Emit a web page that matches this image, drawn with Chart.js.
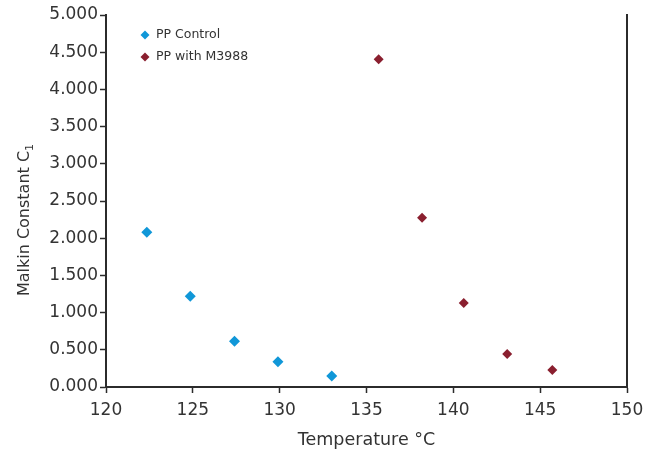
<!DOCTYPE html>
<html lang="en">

<head>
    <meta charset="utf-8">
    <title>Malkin Constant vs Temperature</title>
    <script src="https://cdn.jsdelivr.net/npm/chart.js@4.4.0/dist/chart.umd.min.js"></script>
    <style>
        body {
            margin: 0;
            background-color: #ffffff;
        }

        .wrap {
            width: 657px;
            height: 451px;
        }
    </style>
</head>

<body>
    <div class="wrap">
        <canvas id="myChart" width="657" height="451"></canvas>
    </div>

    <script>
        // values
        var controlTemp = [122.35, 124.85, 127.4, 129.9, 133.0];
        var controlC1 = [2.079, 1.219, 0.614, 0.340, 0.148];

        var m3988Temp = [135.7, 138.2, 140.6, 143.1, 145.7];
        var m3988C1 = [4.405, 2.276, 1.129, 0.444, 0.228];

        var seriesNames = ["PP Control", "PP with M3988"];
        var seriesColors = ["#1097d8", "#8a1f2f"];

        var xTicks = [120, 125, 130, 135, 140, 145, 150];
        var yTicks = [0, 0.5, 1, 1.5, 2, 2.5, 3, 3.5, 4, 4.5, 5];

        var yTitle = "Malkin Constant C";
        var yTitleSub = "1";

        var fontFamily = "'DejaVu Sans', sans-serif";
        var textColor = "#333333";
        var lineColor = "#2b2b2b";

        let toPoints = (xs, ys) => xs.map((x, i) => ({ x: x, y: ys[i] }));

        // legend drawn inside the plot, top-left
        let insideLegend = {
            id: 'insideLegend',
            afterDraw: (chart) => {
                let ctx = chart.ctx;
                ctx.save();
                ctx.font = "12.5px " + fontFamily;
                ctx.textBaseline = "middle";
                chart.data.datasets.forEach((ds, i) => {
                    let cx = 145;
                    let cy = 35 + i * 22;
                    ctx.fillStyle = ds.backgroundColor;
                    ctx.beginPath();
                    ctx.moveTo(cx, cy - 4.5);
                    ctx.lineTo(cx + 4.5, cy);
                    ctx.lineTo(cx, cy + 4.5);
                    ctx.lineTo(cx - 4.5, cy);
                    ctx.closePath();
                    ctx.fill();
                    ctx.fillStyle = textColor;
                    ctx.fillText(ds.label, 156, cy);
                });
                ctx.restore();
            }
        };

        // y title with a real subscript
        let yAxisTitle = {
            id: 'yAxisTitle',
            afterDraw: (chart) => {
                let ctx = chart.ctx;
                ctx.save();
                ctx.translate(25, 220);
                ctx.rotate(-Math.PI / 2);
                ctx.fillStyle = textColor;
                ctx.textBaseline = "middle";
                ctx.font = "16px " + fontFamily;
                let w1 = ctx.measureText(yTitle).width;
                ctx.font = "11px " + fontFamily;
                let w2 = ctx.measureText(yTitleSub).width;
                let start = -(w1 + w2) / 2;
                ctx.font = "16px " + fontFamily;
                ctx.fillText(yTitle, start, 0);
                ctx.font = "11px " + fontFamily;
                ctx.fillText(yTitleSub, start + w1, 5);
                ctx.restore();
            }
        };

        let showChart = () => {
            new Chart(document.getElementById("myChart"), {
                type: 'scatter',
                data: {
                    datasets: [{
                        label: seriesNames[0],
                        data: toPoints(controlTemp, controlC1),
                        backgroundColor: seriesColors[0],
                        borderColor: seriesColors[0],
                        pointStyle: 'rectRot',
                        pointRadius: 5.5,
                        borderWidth: 0
                    }, {
                        label: seriesNames[1],
                        data: toPoints(m3988Temp, m3988C1),
                        backgroundColor: seriesColors[1],
                        borderColor: seriesColors[1],
                        pointStyle: 'rectRot',
                        pointRadius: 5,
                        borderWidth: 0
                    }]
                },
                options: {
                    responsive: false,
                    animation: false,
                    layout: {
                        padding: { top: 15, left: 0, right: 0, bottom: 0 }
                    },
                    plugins: {
                        legend: { display: false },
                        tooltip: { enabled: false }
                    },
                    scales: {
                        x: {
                            type: 'linear',
                            min: 120,
                            max: 150,
                            afterBuildTicks: (scale) => {
                                scale.ticks = xTicks.map(v => ({ value: v }));
                            },
                            afterFit: (scale) => {
                                scale.height = 64;
                            },
                            grid: {
                                drawOnChartArea: false,
                                drawTicks: true,
                                tickLength: 6,
                                tickWidth: 1.5,
                                tickColor: lineColor
                            },
                            border: { display: true, color: lineColor, width: 2 },
                            ticks: {
                                padding: 7,
                                color: textColor,
                                font: { family: fontFamily, size: 17 },
                                callback: (v) => v
                            },
                            title: {
                                display: true,
                                text: "Temperature °C",
                                color: textColor,
                                font: { family: fontFamily, size: 17.5 },
                                padding: { top: 4, bottom: 0 }
                            }
                        },
                        y: {
                            type: 'linear',
                            min: 0,
                            max: 5,
                            afterBuildTicks: (scale) => {
                                scale.ticks = yTicks.map(v => ({ value: v }));
                            },
                            afterFit: (scale) => {
                                scale.width = 106;
                            },
                            grid: {
                                drawOnChartArea: false,
                                drawTicks: true,
                                tickLength: 6,
                                tickWidth: 1.5,
                                tickColor: lineColor
                            },
                            border: { display: true, color: lineColor, width: 2 },
                            ticks: {
                                padding: 2,
                                color: textColor,
                                font: { family: fontFamily, size: 17 },
                                callback: (v) => v.toFixed(3)
                            },
                            title: { display: false }
                        },
                        y2: {
                            type: 'linear',
                            position: 'right',
                            min: 0,
                            max: 5,
                            afterFit: (scale) => {
                                scale.width = 30;
                            },
                            grid: { display: false },
                            border: { display: true, color: lineColor, width: 2 },
                            ticks: { display: false }
                        }
                    }
                },
                plugins: [insideLegend, yAxisTitle]
            });
        };

        showChart();
    </script>
</body>

</html>
